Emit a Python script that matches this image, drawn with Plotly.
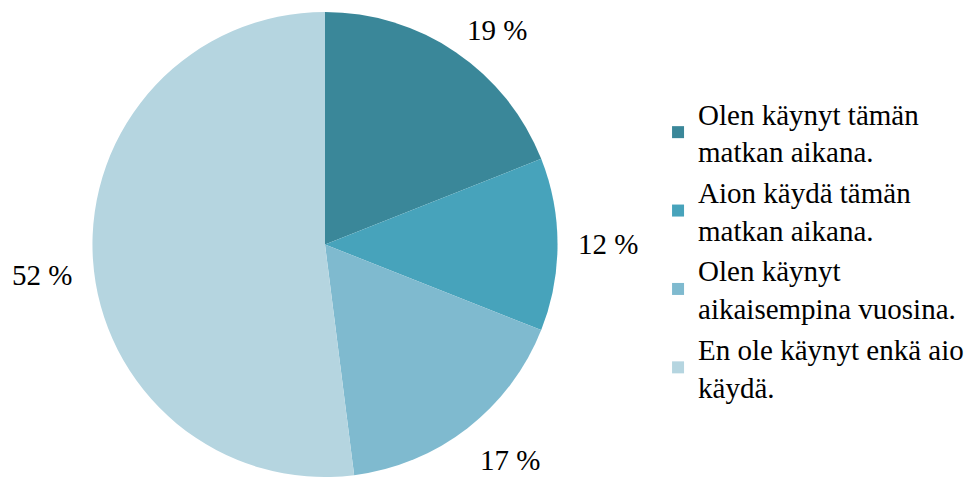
import math
import plotly.graph_objects as go

labels = ["Olen käynyt tämän<br>matkan aikana.",
          "Aion käydä tämän<br>matkan aikana.",
          "Olen käynyt<br>aikaisempina vuosina.",
          "En ole käynyt enkä aio<br>käydä."]
values = [19, 12, 17, 52]
colors = ["#3a8799", "#47a3bb", "#7fbacf", "#b5d5e0"]

FONT = "Liberation Serif"
W, H = 972, 477
dom_x = [89 / W, 561 / W]
dom_y = [0.0, 0.975]

fig = go.Figure(go.Pie(
    labels=labels, values=values, sort=False, direction="clockwise", rotation=0,
    marker=dict(colors=colors, line=dict(width=0)),
    textinfo="none", hoverinfo="label+percent",
    domain=dict(x=dom_x, y=dom_y),
))

# label positions derived from slice mid-angles (outside end, kept inside chart)
cx = (dom_x[0] + dom_x[1]) / 2 * W
cy_px = H - (dom_y[0] + dom_y[1]) / 2 * H
R = min((dom_x[1] - dom_x[0]) * W, (dom_y[1] - dom_y[0]) * H) / 2
total = sum(values)
half_w, half_h = 30, 15
cum = 0
for v in values:
    mid = (cum + v / 2) / total * 2 * math.pi
    cum += v
    r = R * 1.09
    s, c = math.sin(mid), math.cos(mid)
    x_px = cx + r * s + (half_w if s > 0.05 else -half_w if s < -0.05 else 0)
    y_px = cy_px - r * c + (-half_h if c > 0.05 else half_h if c < -0.05 else 0)
    y_px = min(max(y_px, 30), H - 15)
    fig.add_annotation(x=x_px / W, y=1 - y_px / H, xref="paper", yref="paper",
                       xanchor="center", yanchor="middle",
                       text=f"{v} %", showarrow=False,
                       font=dict(family=FONT, size=29, color="#000"))

fig.update_layout(
    width=W, height=H, margin=dict(l=0, r=0, t=0, b=0),
    paper_bgcolor="white", plot_bgcolor="white",
    font=dict(family=FONT, size=29, color="#000"),
    legend=dict(x=0.677, y=0.476, xanchor="left", yanchor="middle",
                font=dict(family=FONT, size=29, color="#000"),
                itemwidth=30),
    showlegend=True,
)
fig.write_html("out.html")
